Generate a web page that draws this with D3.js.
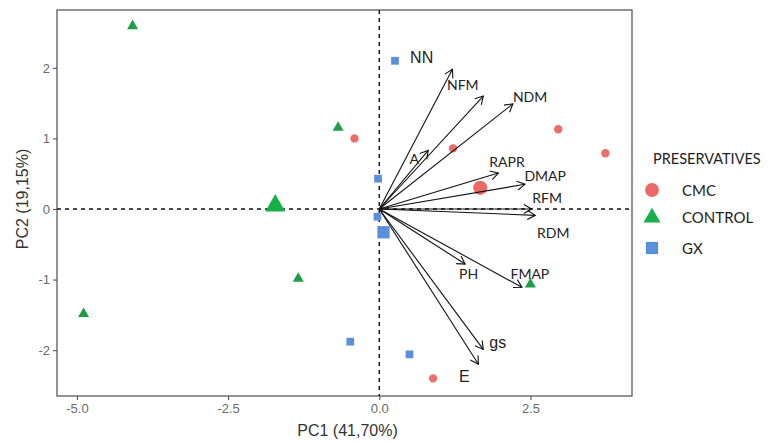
<!DOCTYPE html>
<html>
<head>
<meta charset="utf-8">
<script src="https://cdn.jsdelivr.net/npm/d3@7"></script>
<style>
  html, body { margin: 0; padding: 0; background: #fff; }
  svg { display: block; }
</style>
</head>
<body>
<svg id="chart" width="768" height="443"></svg>
<script>
// ---- data ----
const groups = ["CMC", "CONTROL", "GX"];

const cmcPC1 = [-0.41, 1.22, 2.96, 3.74, 0.89];
const cmcPC2 = [1.00, 0.86, 1.13, 0.79, -2.40];
const controlPC1 = [-4.08, -0.68, -1.34, -4.89, 2.50];
const controlPC2 = [2.60, 1.16, -0.98, -1.48, -1.06];
const gxPC1 = [0.26, -0.02, -0.03, -0.48, 0.50];
const gxPC2 = [2.10, 0.43, -0.11, -1.88, -2.06];

// group centroids (large markers)
const centroidPC1 = [1.67, -1.72, 0.07];
const centroidPC2 = [0.30, 0.06, -0.33];

// variable loadings (arrows)
const varNames = ["NN", "NFM", "NDM", "A", "RAPR", "DMAP", "RFM", "RDM", "PH", "FMAP", "gs", "E"];
const loadPC1 = [1.21, 1.72, 2.21, 0.81, 1.97, 2.41, 2.52, 2.58, 1.42, 2.36, 1.72, 1.64];
const loadPC2 = [1.98, 1.60, 1.49, 0.83, 0.51, 0.35, 0.00, -0.09, -0.78, -1.11, -1.99, -2.20];
// label anchor points (data units)
const labelPC1 = [0.51, 1.12, 2.21, 0.50, 1.82, 2.40, 2.53, 2.61, 1.32, 2.17, 1.82, 1.32];
const labelPC2 = [2.14, 1.76, 1.60, 0.72, 0.68, 0.47, 0.16, -0.34, -0.91, -0.92, -1.89, -2.37];

const xTicks = [-5.0, -2.5, 0.0, 2.5];
const yTicks = [-2, -1, 0, 1, 2];
const xTitle = "PC1 (41,70%)";
const yTitle = "PC2 (19,15%)";
const legendTitle = "PRESERVATIVES";

// ---- styles ----
const colors = { CMC: "#ea6f68", CONTROL: "#1f9e47", GX: "#5b8fdb" };
const centroidColors = { CMC: "#ec6a66", CONTROL: "#17b048", GX: "#5a8fe0" };
const bigLabels = new Set(["NN", "gs", "E"]);
const hyphen = s => s.replace("\u2212", "-");

// ---- layout ----
const panel = { left: 57, top: 10, right: 632, bottom: 396 };
const svg = d3.select("#chart");

const x = d3.scaleLinear().domain([-5.33, 4.18]).range([panel.left, panel.right]);
const y = d3.scaleLinear().domain([-2.65, 2.82]).range([panel.bottom, panel.top]);

// axes
const xAxis = d3.axisBottom(x).tickValues(xTicks).tickFormat(d => hyphen(d3.format(".1f")(d))).tickSize(4).tickPadding(4);
const yAxis = d3.axisLeft(y).tickValues(yTicks).tickFormat(d => hyphen(d3.format("d")(d))).tickSize(4).tickPadding(3);

const gx = svg.append("g").attr("transform", `translate(0,${panel.bottom})`).call(xAxis);
const gy = svg.append("g").attr("transform", `translate(${panel.left},0)`).call(yAxis);
[gx, gy].forEach(g => {
  g.select(".domain").remove();
  g.selectAll(".tick line").attr("stroke", "#555").attr("stroke-width", 1.1);
  g.selectAll(".tick text").attr("fill", "#6a6a6a").attr("font-family", "Liberation Sans, Arial, sans-serif")
    .attr("font-size", 13);
});

// panel border
svg.append("rect")
  .attr("x", panel.left).attr("y", panel.top)
  .attr("width", panel.right - panel.left).attr("height", panel.bottom - panel.top)
  .attr("fill", "none").attr("stroke", "#5a5a5a").attr("stroke-width", 1.3);

// zero lines
svg.append("line")
  .attr("x1", panel.left).attr("x2", panel.right).attr("y1", y(0)).attr("y2", y(0))
  .attr("stroke", "#111").attr("stroke-width", 1.4).attr("stroke-dasharray", "4,4");
svg.append("line")
  .attr("x1", x(0)).attr("x2", x(0)).attr("y1", panel.top).attr("y2", panel.bottom)
  .attr("stroke", "#111").attr("stroke-width", 1.4).attr("stroke-dasharray", "4,4");

// points
const pts = [];
cmcPC1.forEach((v, i) => pts.push({ g: "CMC", pc1: v, pc2: cmcPC2[i] }));
controlPC1.forEach((v, i) => pts.push({ g: "CONTROL", pc1: v, pc2: controlPC2[i] }));
gxPC1.forEach((v, i) => pts.push({ g: "GX", pc1: v, pc2: gxPC2[i] }));

const symType = { CMC: d3.symbolCircle, CONTROL: d3.symbolTriangle, GX: d3.symbolSquare };
const smallSize = { CMC: 55, CONTROL: 55, GX: 60 };
const bigSize = { CMC: 160, CONTROL: 190, GX: 150 };

function triPath(cx, cy, w) {
  const h = w * 0.87;
  return `M${cx},${cy - h * 0.62}L${cx + w / 2},${cy + h * 0.38}L${cx - w / 2},${cy + h * 0.38}Z`;
}

const pg = svg.append("g");
pts.forEach(p => {
  if (p.g === "CONTROL") {
    pg.append("path").attr("d", triPath(x(p.pc1), y(p.pc2), 11)).attr("fill", colors[p.g]);
  } else {
    pg.append("path")
      .attr("transform", `translate(${x(p.pc1)},${y(p.pc2)})`)
      .attr("d", d3.symbol().type(symType[p.g]).size(smallSize[p.g])())
      .attr("fill", colors[p.g]);
  }
});
groups.forEach((g, i) => {
  if (g === "CONTROL") {
    pg.append("path").attr("d", triPath(x(centroidPC1[i]), y(centroidPC2[i]), 20)).attr("fill", centroidColors[g]);
  } else {
    pg.append("path")
      .attr("transform", `translate(${x(centroidPC1[i])},${y(centroidPC2[i])})`)
      .attr("d", d3.symbol().type(symType[g]).size(bigSize[g])())
      .attr("fill", centroidColors[g]);
  }
});

// arrows
const ag = svg.append("g");
varNames.forEach((name, i) => {
  const x0 = x(0), y0 = y(0);
  const x1 = x(loadPC1[i]), y1 = y(loadPC2[i]);
  ag.append("line").attr("x1", x0).attr("y1", y0).attr("x2", x1).attr("y2", y1)
    .attr("stroke", "#111").attr("stroke-width", 1.1);
  const ang = Math.atan2(y1 - y0, x1 - x0);
  const L = 9, a = Math.PI / 6;
  const p1 = [x1 - L * Math.cos(ang - a), y1 - L * Math.sin(ang - a)];
  const p2 = [x1 - L * Math.cos(ang + a), y1 - L * Math.sin(ang + a)];
  ag.append("path").attr("d", `M${p1[0]},${p1[1]}L${x1},${y1}L${p2[0]},${p2[1]}`)
    .attr("fill", "none").attr("stroke", "#111").attr("stroke-width", 1.1);
});

// arrow labels
varNames.forEach((name, i) => {
  const big = bigLabels.has(name);
  svg.append("text")
    .attr("x", x(labelPC1[i])).attr("y", y(labelPC2[i]))
    .attr("dominant-baseline", "central")
    .attr("font-family", big ? "Liberation Sans, Arial, sans-serif" : "Lato, 'Open Sans', sans-serif")
    .attr("font-size", big ? 16 : 14)
    .attr("fill", "#222")
    .text(name);
});

// axis titles
svg.append("text")
  .attr("x", (panel.left + panel.right) / 2 + 3).attr("y", 436)
  .attr("text-anchor", "middle")
  .attr("font-family", "Liberation Sans, Arial, sans-serif")
  .attr("font-size", 16).attr("fill", "#333")
  .text(xTitle);
svg.append("text")
  .attr("transform", `translate(28,${(panel.top + panel.bottom) / 2 - 4}) rotate(-90)`)
  .attr("text-anchor", "middle")
  .attr("font-family", "Liberation Sans, Arial, sans-serif")
  .attr("font-size", 16).attr("fill", "#333")
  .text(yTitle);

// legend
const lg = svg.append("g");
lg.append("text").attr("x", 653).attr("y", 158).attr("dominant-baseline", "central")
  .attr("font-family", "Lato, 'Open Sans', sans-serif").attr("font-size", 14.5).attr("fill", "#222")
  .text(legendTitle);
const legendY = [190, 217, 248];
groups.forEach((g, i) => {
  const cy = legendY[i];
  if (g === "CONTROL") {
    lg.append("path").attr("d", triPath(652, cy, 17)).attr("fill", centroidColors[g]);
  } else {
    lg.append("path").attr("transform", `translate(652,${cy})`)
      .attr("d", d3.symbol().type(symType[g]).size(g === "CMC" ? 150 : 150)())
      .attr("fill", centroidColors[g]);
  }
  lg.append("text").attr("x", 682).attr("y", cy).attr("dominant-baseline", "central")
    .attr("font-family", "Lato, 'Open Sans', sans-serif").attr("font-size", 15).attr("fill", "#222")
    .text(g);
});
</script>
</body>
</html>
